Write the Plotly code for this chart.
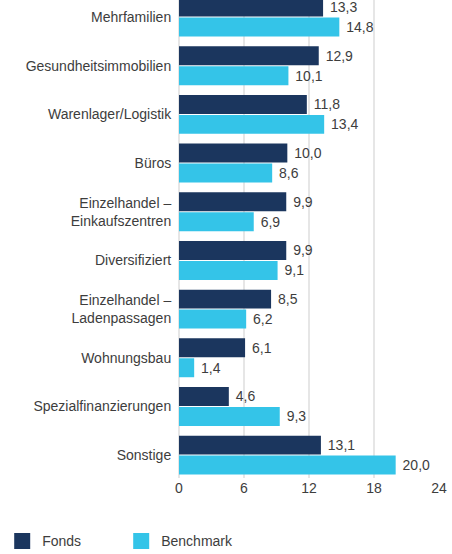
import plotly.graph_objects as go

categories = ["Mehrfamilien", "Gesundheitsimmobilien", "Warenlager/Logistik", "Büros",
              "Einzelhandel –<br>Einkaufszentren", "Diversifiziert",
              "Einzelhandel –<br>Ladenpassagen", "Wohnungsbau",
              "Spezialfinanzierungen", "Sonstige"]
fonds = [13.3, 12.9, 11.8, 10.0, 9.9, 9.9, 8.5, 6.1, 4.6, 13.1]
benchmark = [14.8, 10.1, 13.4, 8.6, 6.9, 9.1, 6.2, 1.4, 9.3, 20.0]
x_ticks = [0, 6, 12, 18, 24]

NAVY = "#1b365e"
CYAN = "#34c4e8"
TXT = "#3d3d3d"
FONT = "Liberation Sans, Arial, sans-serif"
FS = 14

fig = go.Figure()
for name, vals, col in [("Fonds", fonds, NAVY), ("Benchmark", benchmark, CYAN)]:
    fig.add_trace(go.Bar(
        y=categories, x=vals, name=name, orientation="h",
        marker=dict(color=col, line=dict(width=0)),
        texttemplate="\u00a0%{x:.1f}", textposition="outside",
        textfont=dict(family=FONT, size=FS, color=TXT),
        cliponaxis=False, showlegend=False,
    ))
    fig.add_trace(go.Scatter(
        x=[None], y=[None], mode="markers", name=name,
        marker=dict(symbol="square", size=16, color=col),
    ))

fig.update_layout(
    width=452, height=554,
    margin=dict(l=179, r=13, t=0, b=76, autoexpand=False),
    paper_bgcolor="white", plot_bgcolor="white",
    separators=",.",
    barmode="group", bargap=0.18, bargroupgap=0.05,
    font=dict(family=FONT, size=FS, color=TXT),
    legend=dict(orientation="h", x=-0.68, xanchor="left", y=-0.099, yanchor="top",
                font=dict(family=FONT, size=FS, color=TXT),
                entrywidth=74, itemwidth=30, traceorder="normal"),
    xaxis=dict(range=[0, 24], tickvals=x_ticks, showgrid=True, gridcolor="#e6e6e6",
               gridwidth=2, zeroline=True, zerolinecolor="#e6e6e6", zerolinewidth=2,
               showline=False, automargin=False,
               tickfont=dict(family=FONT, size=FS, color=TXT)),
    yaxis=dict(range=[9.47, -0.35], showgrid=False, ticks="outside", ticklen=4,
               tickcolor="rgba(0,0,0,0)", automargin=False,
               tickfont=dict(family=FONT, size=FS, color=TXT)),
)

fig.write_html("out.html", config={"displayModeBar": False},
               post_script="document.body.style.margin='0';document.body.style.overflow='hidden';")
